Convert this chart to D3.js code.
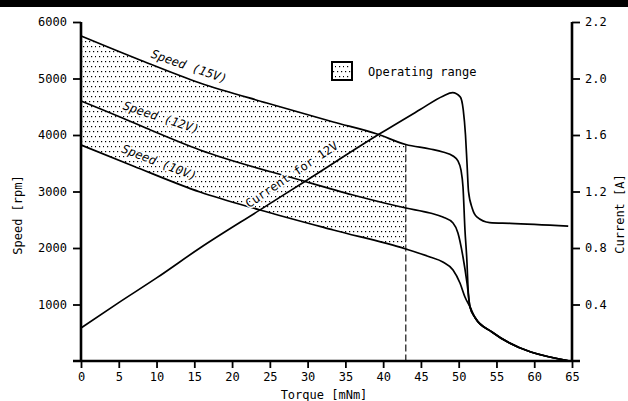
<!DOCTYPE html>
<html lang="en">
<head>
<meta charset="UTF-8">
<title>Motor characteristics</title>
<script src="https://d3js.org/d3.v7.min.js"></script>
<style>
    body { margin: 0; background: #fff; }
    svg { display: block; }
    text { font-family: "DejaVu Sans Mono", monospace; font-size: 12px; fill: #000; }
    .axis path { display: none; }
    .axis line { stroke: #000; stroke-width: 1.8px; }
    .curve { fill: none; stroke: #000; stroke-width: 1.7px; stroke-linejoin: round; }
    .lbl { paint-order: stroke; stroke: #fff; stroke-width: 3px; stroke-linejoin: round; }
</style>
</head>
<body>
<svg id="chart" width="628" height="401"></svg>
<script>
// torque [mNm], speed [rpm]
const speed15 = [[0, 5753], [7.8, 5328], [15.75, 4921], [24.6, 4567], [33.4, 4230], [39.2, 4018],
    [43, 3832], [46.2, 3752], [47.9, 3699], [49.25, 3629], [49.9, 3540], [50.3, 3381], [50.57, 3080],
    [50.83, 2319], [51.1, 1735], [51.23, 1310], [51.5, 956], [52.2, 761], [54.4, 513], [64.7, 0]];
const speed12 = [[0, 4602], [6.1, 4266], [8.74, 4115], [15.75, 3735], [29, 3204], [36, 2938],
    [43, 2708], [46.2, 2620], [47.9, 2549], [49.25, 2443], [49.9, 2266], [50.57, 1841], [51.1, 1381],
    [51.5, 956], [52.2, 761], [54.4, 513], [64.7, 0]];
const speed10 = [[0, 3823], [6.9, 3452], [15.75, 2991], [23.7, 2673], [33.4, 2319], [43, 1982],
    [46.2, 1841], [47.9, 1752], [49.25, 1611], [50.17, 1381], [50.83, 1133], [51.5, 956],
    [52.2, 761], [54.4, 513], [64.7, 0]];
// torque [mNm], current [A]
const current12 = [[0, 0.234], [4.9, 0.41], [10.06, 0.59], [15.75, 0.80], [23.7, 1.07], [29.9, 1.28],
    [39.6, 1.61], [44.9, 1.78], [47.9, 1.875], [49.2, 1.90], [50.2, 1.87], [50.6, 1.78], [50.9, 1.60],
    [51.1, 1.40], [51.3, 1.20], [51.8, 1.08], [52.4, 1.02], [54.1, 0.98], [56.8, 0.975], [64.5, 0.955]];

const opRangeEnd = 43;
const torqueTicks = d3.range(0, 66, 5);
const speedTicks = [1000, 2000, 3000, 4000, 5000, 6000];
const currentTicks = [0.4, 0.8, 1.2, 1.6, 2.0, 2.4];
const currentTickLabels = ["0.4", "0.8", "1.2", "1.6", "2.0", "2.2"];

const svg = d3.select("#chart");
const pLeft = 81, pRight = 572, pTop = 22, pBottom = 361;

const x = d3.scaleLinear().domain([0, 65]).range([pLeft, pRight]);
const y = d3.scaleLinear().domain([0, 6000]).range([pBottom, pTop]);
const yA = d3.scaleLinear().domain([0, 2.4]).range([pBottom, pTop]);

// scan border at the top
svg.append("rect").attr("x", 0).attr("y", 0).attr("width", 628).attr("height", 7).attr("fill", "#000");

const defs = svg.append("defs");
const pat = defs.append("pattern").attr("id", "dots")
    .attr("patternUnits", "userSpaceOnUse").attr("width", 8).attr("height", 10);
[[1, 1], [5, 1], [3, 6], [7, 6]].forEach(p => {
    pat.append("rect").attr("x", p[0]).attr("y", p[1]).attr("width", 1.2).attr("height", 1.2).attr("fill", "#000");
});
defs.append("clipPath").attr("id", "opclip").append("rect")
    .attr("x", x(0)).attr("y", 0).attr("width", x(opRangeEnd) - x(0)).attr("height", 401);

const line = d3.line().x(d => x(d[0])).y(d => y(d[1])).curve(d3.curveMonotoneX);
const lineA = d3.line().x(d => x(d[0])).y(d => yA(d[1])).curve(d3.curveMonotoneX);

// operating range between 15V and 10V
const band = speed15.concat(speed10.slice().reverse());
svg.append("path")
    .attr("d", d3.line().x(d => x(d[0])).y(d => y(d[1]))(band) + "Z")
    .attr("fill", "url(#dots)")
    .attr("clip-path", "url(#opclip)");

const top43 = speed15.find(d => d[0] === opRangeEnd)[1];
svg.append("line")
    .attr("x1", x(opRangeEnd)).attr("x2", x(opRangeEnd))
    .attr("y1", y(top43)).attr("y2", y(0))
    .attr("stroke", "#000").attr("stroke-width", 1.1).attr("stroke-dasharray", "7,3");

[speed15, speed12, speed10].forEach(s => {
    svg.append("path").datum(s).attr("class", "curve").attr("d", line);
});
svg.append("path").datum(current12).attr("class", "curve").attr("d", lineA);

// axes
svg.append("g").attr("class", "axis").attr("transform", `translate(0,${pBottom})`)
    .call(d3.axisBottom(x).tickValues(torqueTicks).tickSize(7).tickPadding(4));
svg.append("g").attr("class", "axis").attr("transform", `translate(${pLeft},0)`)
    .call(d3.axisLeft(y).tickValues(speedTicks).tickSize(8).tickPadding(6).tickFormat(d3.format("d")));
svg.append("g").attr("class", "axis").attr("transform", `translate(${pRight},0)`)
    .call(d3.axisRight(yA).tickValues(currentTicks).tickSize(8).tickPadding(5)
        .tickFormat((d, i) => currentTickLabels[i]));
svg.selectAll(".axis text").attr("font-size", 12).attr("font-family", "DejaVu Sans Mono");

svg.append("line").attr("x1", 73).attr("x2", 580).attr("y1", pBottom).attr("y2", pBottom)
    .attr("stroke", "#000").attr("stroke-width", 2.6);
svg.append("line").attr("x1", pLeft).attr("x2", pLeft).attr("y1", pTop).attr("y2", pBottom + 1)
    .attr("stroke", "#000").attr("stroke-width", 2.6);
svg.append("line").attr("x1", pRight).attr("x2", pRight).attr("y1", pTop).attr("y2", pBottom + 1)
    .attr("stroke", "#000").attr("stroke-width", 2.6);

// axis titles
svg.append("text").attr("x", 324).attr("y", 395).attr("text-anchor", "middle")
    .attr("dominant-baseline", "middle").text("Torque [mNm]");
svg.append("text").attr("transform", "translate(18,215) rotate(-90)").attr("text-anchor", "middle")
    .attr("dominant-baseline", "middle").text("Speed [rpm]");
svg.append("text").attr("transform", "translate(620,214) rotate(-90)").attr("text-anchor", "middle")
    .attr("dominant-baseline", "middle").text("Current [A]");

// curve labels
const labels = [
    { t: "Speed (15V)", x: 189, y: 67, a: 19 },
    { t: "Speed (12V)", x: 161, y: 118, a: 18 },
    { t: "Speed (10V)", x: 159, y: 163, a: 21 },
    { t: "Current for 12V", x: 292, y: 175, a: -34 }
];
labels.forEach(l => {
    svg.append("text").attr("class", "lbl")
        .attr("transform", `translate(${l.x},${l.y}) rotate(${l.a})`)
        .attr("text-anchor", "middle").attr("dominant-baseline", "middle")
        .attr("font-style", l.a > 0 ? "italic" : "normal").text(l.t);
});

// legend
svg.append("rect").attr("x", 332).attr("y", 62).attr("width", 20).attr("height", 18)
    .attr("fill", "url(#dots)").attr("stroke", "#000").attr("stroke-width", 2);
svg.append("text").attr("x", 368).attr("y", 72).attr("dominant-baseline", "middle").text("Operating range");
</script>
</body>
</html>
